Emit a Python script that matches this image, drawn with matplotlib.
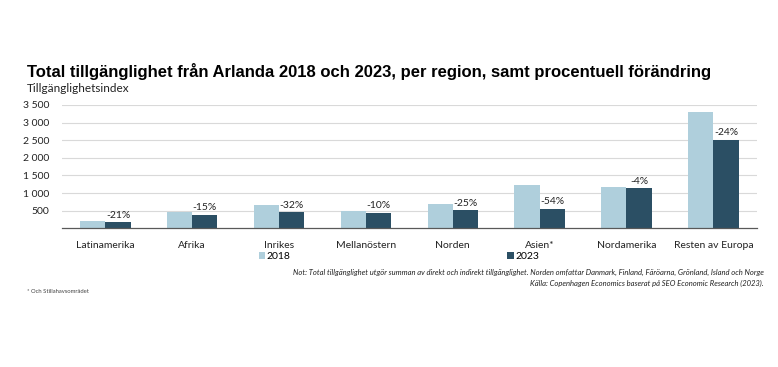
import matplotlib.pyplot as plt
import numpy as np

regions = ["Latinamerika", "Afrika", "Inrikes", "Mellanöstern", "Norden",
           "Asien*", "Nordamerika", "Resten av Europa"]
values_2018 = [215, 450, 660, 490, 680, 1220, 1175, 3300]
values_2023 = [170, 385, 450, 440, 510, 560, 1130, 2510]
changes = ["-21%", "-15%", "-32%", "-10%", "-25%", "-54%", "-4%", "-24%"]
yticks = [500, 1000, 1500, 2000, 2500, 3000, 3500]

light = "#AFCFDC"
dark = "#2B4F64"
body_font = ["Lato", "DejaVu Sans"]

fig = plt.figure(figsize=(7.78, 3.67), dpi=100)
ax = fig.add_axes([0.0797, 0.378, 0.893, 0.336])

x = np.arange(len(regions))
w = 0.29
ax.bar(x - w / 2, values_2018, w, color=light, label="2018", zorder=2)
ax.bar(x + w / 2, values_2023, w, color=dark, label="2023", zorder=2)

for xi, v, c in zip(x, values_2023, changes):
    ax.annotate(c, (xi + w / 2, v), xytext=(0, 2), textcoords="offset points",
                ha="center", va="bottom", fontsize=7.5, family=body_font, color="#222222")

ax.set_xlim(-0.5, len(regions) - 0.5)
ax.set_ylim(0, 3500)
ax.set_yticks(yticks)
ax.set_yticklabels([f"{t:,}".replace(",", " ") for t in yticks], family=body_font, fontsize=7.5)
ax.set_xticks(x)
ax.set_xticklabels(regions, family=body_font, fontsize=7.5)
ax.tick_params(axis="both", length=0, colors="#222222")
ax.tick_params(axis="x", pad=9)
ax.tick_params(axis="y", pad=9)
ax.yaxis.grid(True, color="#D9D9D9", linewidth=0.8, zorder=0)
ax.set_axisbelow(True)
for s in ["top", "right", "left"]:
    ax.spines[s].set_visible(False)
ax.spines["bottom"].set_color("#595959")
ax.spines["bottom"].set_linewidth(0.9)
ax.spines["bottom"].set_zorder(3)

leg = fig.legend(loc="center", bbox_to_anchor=(0.513, 0.30), ncol=2, frameon=False,
                 prop={"family": body_font, "size": 7.5}, handlelength=0.6, handleheight=0.6,
                 handletextpad=0.2, columnspacing=20.8)

fig.text(0.035, 0.806, "Total tillgänglighet från Arlanda 2018 och 2023, per region, samt procentuell förändring",
         fontsize=12, fontweight="bold", family=["Liberation Sans", "DejaVu Sans"], va="center")
fig.text(0.035, 0.76, "Tillgänglighetsindex", fontsize=8.5, family=body_font, va="center", color="#222222")

fig.text(0.982, 0.258, "Not: Total tillgänglighet utgör summan av direkt och indirekt tillgänglighet. Norden omfattar Danmark, Finland, Färöarna, Grönland, Island och Norge",
         fontsize=5.5, style="italic", family=body_font, ha="right", va="center", color="#222222")
fig.text(0.982, 0.229, "Källa: Copenhagen Economics baserat på SEO Economic Research (2023).",
         fontsize=5.5, style="italic", family=body_font, ha="right", va="center", color="#222222")
fig.text(0.035, 0.205, "* Och Stillahavsområdet", fontsize=4.2, family=body_font, va="center", color="#444444")

fig.savefig("out.png", dpi=100)
